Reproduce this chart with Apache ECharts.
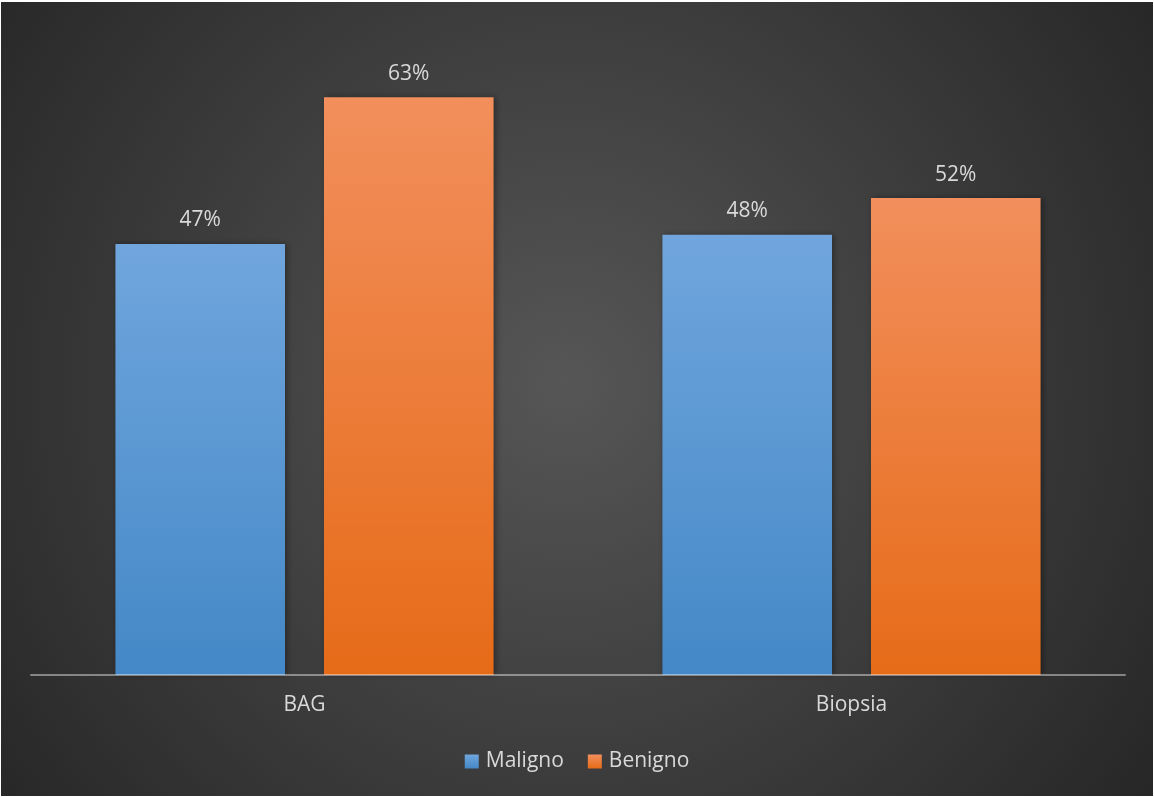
<!DOCTYPE html>
<html>
<head>
<meta charset="utf-8">
<script src="https://cdn.jsdelivr.net/npm/echarts@6/dist/echarts.min.js"></script>
<style>
  html, body { margin: 0; padding: 0; background: #fff; }
  #chart { position: absolute; left: 1px; top: 2px; width: 1152px; height: 794px; }
</style>
</head>
<body>
<div id="chart"></div>
<script>
const categories = ["BAG", "Biopsia"];
const maligno = [47, 48];
const benigno = [63, 52];
const seriesNames = ["Maligno", "Benigno"];

function vGrad(top, bottom) {
  return new echarts.graphic.LinearGradient(0, 0, 0, 1, [
    { offset: 0, color: top },
    { offset: 1, color: bottom }
  ]);
}

const labelStyle = {
  show: true,
  position: "top",
  distance: 13,
  color: "#d9d9d9",
  fontSize: 21,
  fontFamily: "Open Sans",
  formatter: "{c}%"
};

const chart = echarts.init(document.getElementById("chart"));
chart.setOption({
  backgroundColor: {
    type: "radial", x: 0.49, y: 0.48, r: 0.95,
    colorStops: [
      { offset: 0, color: "#565656" },
      { offset: 1, color: "#242424" }
    ]
  },
  animation: false,
  grid: { left: 30, right: 28, top: 31, bottom: 121, containLabel: false },
  legend: {
    bottom: 19,
    left: "center",
    itemWidth: 14,
    itemHeight: 14,
    itemGap: 24,
    icon: "rect",
    textStyle: { color: "#d9d9d9", fontSize: 21, fontFamily: "Open Sans", padding: [0, 0, 0, 2] },
    data: seriesNames
  },
  xAxis: {
    type: "category",
    data: categories,
    z: 10,
    axisLine: { lineStyle: { color: "rgba(255,255,255,0.42)", width: 2 } },
    axisTick: { show: false },
    axisLabel: { color: "#d9d9d9", fontSize: 21, fontFamily: "Open Sans", margin: 20 }
  },
  yAxis: {
    type: "value",
    min: 0,
    max: 70,
    show: false,
    splitLine: { show: false }
  },
  series: [
    {
      name: seriesNames[0],
      type: "bar",
      data: maligno,
      barWidth: "31%",
      barGap: "23%",
      itemStyle: {
        color: vGrad("#70a6dd", "#4488c7"),
        shadowColor: "rgba(0,0,0,0.35)",
        shadowBlur: 6,
        shadowOffsetX: 2
      },
      label: labelStyle
    },
    {
      name: seriesNames[1],
      type: "bar",
      data: benigno,
      barWidth: "31%",
      barGap: "23%",
      itemStyle: {
        color: vGrad("#f28f5c", "#e66b18"),
        shadowColor: "rgba(0,0,0,0.35)",
        shadowBlur: 6,
        shadowOffsetX: 2
      },
      label: labelStyle
    }
  ]
});
</script>
</body>
</html>
